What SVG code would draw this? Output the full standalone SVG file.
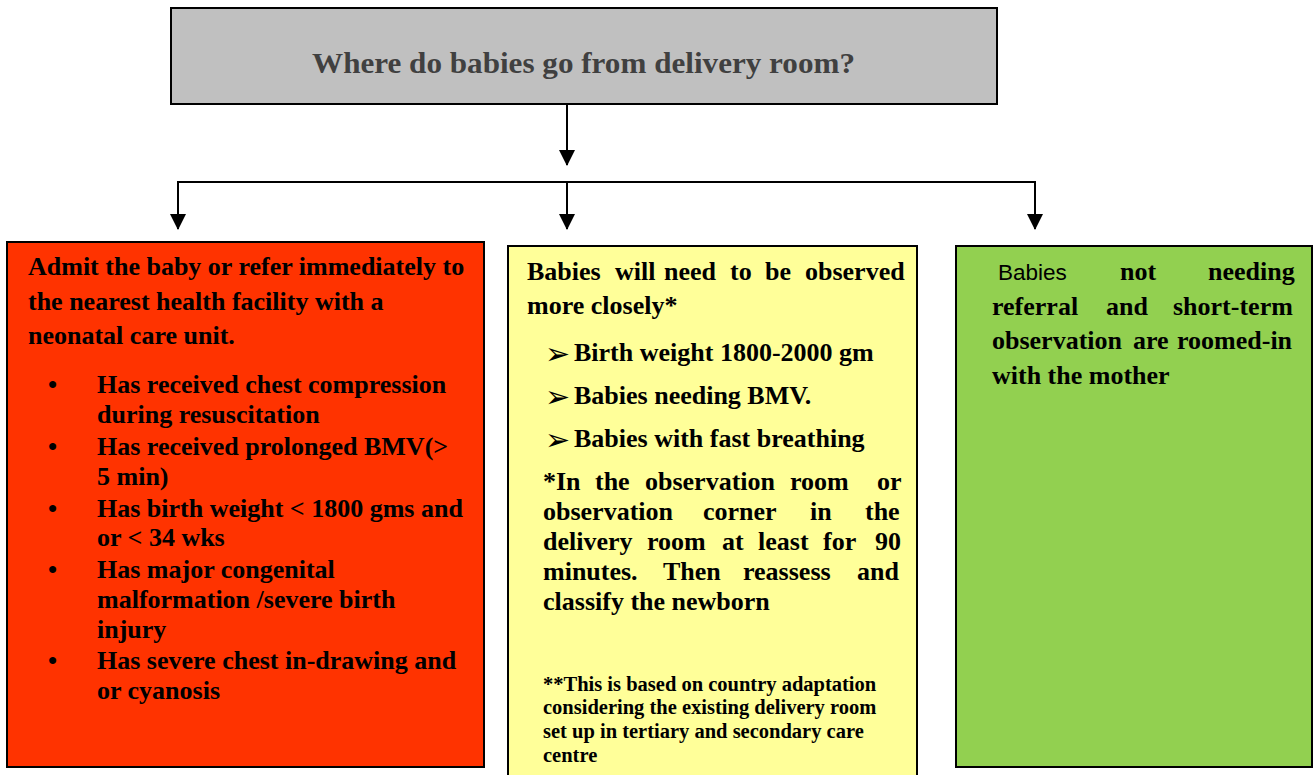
<svg xmlns="http://www.w3.org/2000/svg" width="1314" height="775" viewBox="0 0 1314 775">
<style>
.box{stroke:#000;stroke-width:2}
.t{font-family:"Liberation Serif","Times New Roman",serif;font-weight:bold;font-size:26px;fill:#000}
.s{font-family:"Liberation Serif","Times New Roman",serif;font-weight:bold;font-size:20.5px;fill:#000}
.title{font-family:"Liberation Serif","Times New Roman",serif;font-weight:bold;font-size:29px;fill:#404040}
.arr{font-family:"DejaVu Sans",sans-serif;font-size:30px;fill:#000}
.conn{stroke:#000;stroke-width:2;fill:none}
</style>
<defs>
<marker id="ah" markerUnits="userSpaceOnUse" markerWidth="16" markerHeight="18" refX="15" refY="8" orient="auto" viewBox="0 0 16 16">
<path d="M0,0 L16,8 L0,16 Z" fill="#000"/>
</marker>
</defs>
<rect width="1314" height="775" fill="#fff"/>

<g id="connectors">
<line class="conn" x1="567" y1="104" x2="567" y2="165" marker-end="url(#ah)"/>
<polyline class="conn" points="178,200 178,182 1035,182 1035,200"/>
<line class="conn" x1="178" y1="198" x2="178" y2="229" marker-end="url(#ah)"/>
<line class="conn" x1="567" y1="182" x2="567" y2="229" marker-end="url(#ah)"/>
<line class="conn" x1="1035" y1="198" x2="1035" y2="229" marker-end="url(#ah)"/>
</g>

<g id="node-top">
<rect class="box" x="171" y="8" width="826" height="96" fill="#C0C0C0"/>
<text class="title" x="312" y="73" textLength="543" lengthAdjust="spacingAndGlyphs">Where do babies go from delivery room?</text>
</g>

<g id="node-left">
<rect class="box" x="7" y="242" width="477" height="525" fill="#FF3300"/>
<text class="t" x="28" y="275">Admit the baby or refer immediately to</text>
<text class="t" x="28" y="310">the nearest health facility with a</text>
<text class="t" x="28" y="344">neonatal care unit.</text>
<text class="t" x="48" y="393">•</text>
<text class="t" x="97" y="393">Has received chest compression</text>
<text class="t" x="97" y="423">during resuscitation</text>
<text class="t" x="48" y="455">•</text>
<text class="t" x="97" y="455">Has received prolonged BMV(&gt;</text>
<text class="t" x="97" y="485">5 min)</text>
<text class="t" x="48" y="517">•</text>
<text class="t" x="97" y="517">Has birth weight &lt; 1800 gms and</text>
<text class="t" x="97" y="546">or &lt; 34 wks</text>
<text class="t" x="48" y="578">•</text>
<text class="t" x="97" y="578">Has major congenital</text>
<text class="t" x="97" y="608">malformation /severe birth</text>
<text class="t" x="97" y="638">injury</text>
<text class="t" x="48" y="669">•</text>
<text class="t" x="97" y="669">Has severe chest in-drawing and</text>
<text class="t" x="97" y="699">or cyanosis</text>
</g>

<g id="node-middle">
<rect class="box" x="508" y="246" width="409" height="535" fill="#FFFF99"/>
<text class="t" y="280"><tspan x="527">Babies</tspan><tspan x="615">will</tspan><tspan x="664">need</tspan><tspan x="730">to</tspan><tspan x="765">be</tspan><tspan x="805">observed</tspan></text>
<text class="t" x="527" y="314">more closely*</text>
<text class="arr" x="545" y="364">➢</text>
<text class="t" x="574" y="361">Birth weight 1800-2000 gm</text>
<text class="arr" x="545" y="407">➢</text>
<text class="t" x="574" y="404">Babies needing BMV.</text>
<text class="arr" x="545" y="450">➢</text>
<text class="t" x="574" y="447">Babies with fast breathing</text>
<text class="t" y="490"><tspan x="543">*In</tspan><tspan x="595">the</tspan><tspan x="645">observation</tspan><tspan x="790">room</tspan><tspan x="877">or</tspan></text>
<text class="t" y="520"><tspan x="543">observation</tspan><tspan x="703">corner</tspan><tspan x="810">in</tspan><tspan x="865">the</tspan></text>
<text class="t" y="550"><tspan x="543">delivery</tspan><tspan x="647">room</tspan><tspan x="722">at</tspan><tspan x="758">least</tspan><tspan x="823">for</tspan><tspan x="875">90</tspan></text>
<text class="t" y="580"><tspan x="543">minutes.</tspan><tspan x="663">Then</tspan><tspan x="743">reassess</tspan><tspan x="857">and</tspan></text>
<text class="t" x="543" y="610">classify the newborn</text>
<text class="s" x="543" y="691">**This is based on country adaptation</text>
<text class="s" x="543" y="714">considering the existing delivery room</text>
<text class="s" x="543" y="738">set up in tertiary and secondary care</text>
<text class="s" x="543" y="762">centre</text>
</g>

<g id="node-right">
<rect class="box" x="956" y="246" width="356" height="521" fill="#92D050"/>
<text class="t" y="280"><tspan x="998" font-family="'Liberation Sans',Arial,sans-serif" font-weight="normal" font-size="22.5">Babies</tspan><tspan x="1120">not</tspan><tspan x="1208">needing</tspan></text>
<text class="t" y="315"><tspan x="992">referral</tspan><tspan x="1106">and</tspan><tspan x="1173">short-term</tspan></text>
<text class="t" y="349"><tspan x="992">observation</tspan><tspan x="1133">are</tspan><tspan x="1177">roomed-in</tspan></text>
<text class="t" x="992" y="384">with the mother</text>
</g>
</svg>
